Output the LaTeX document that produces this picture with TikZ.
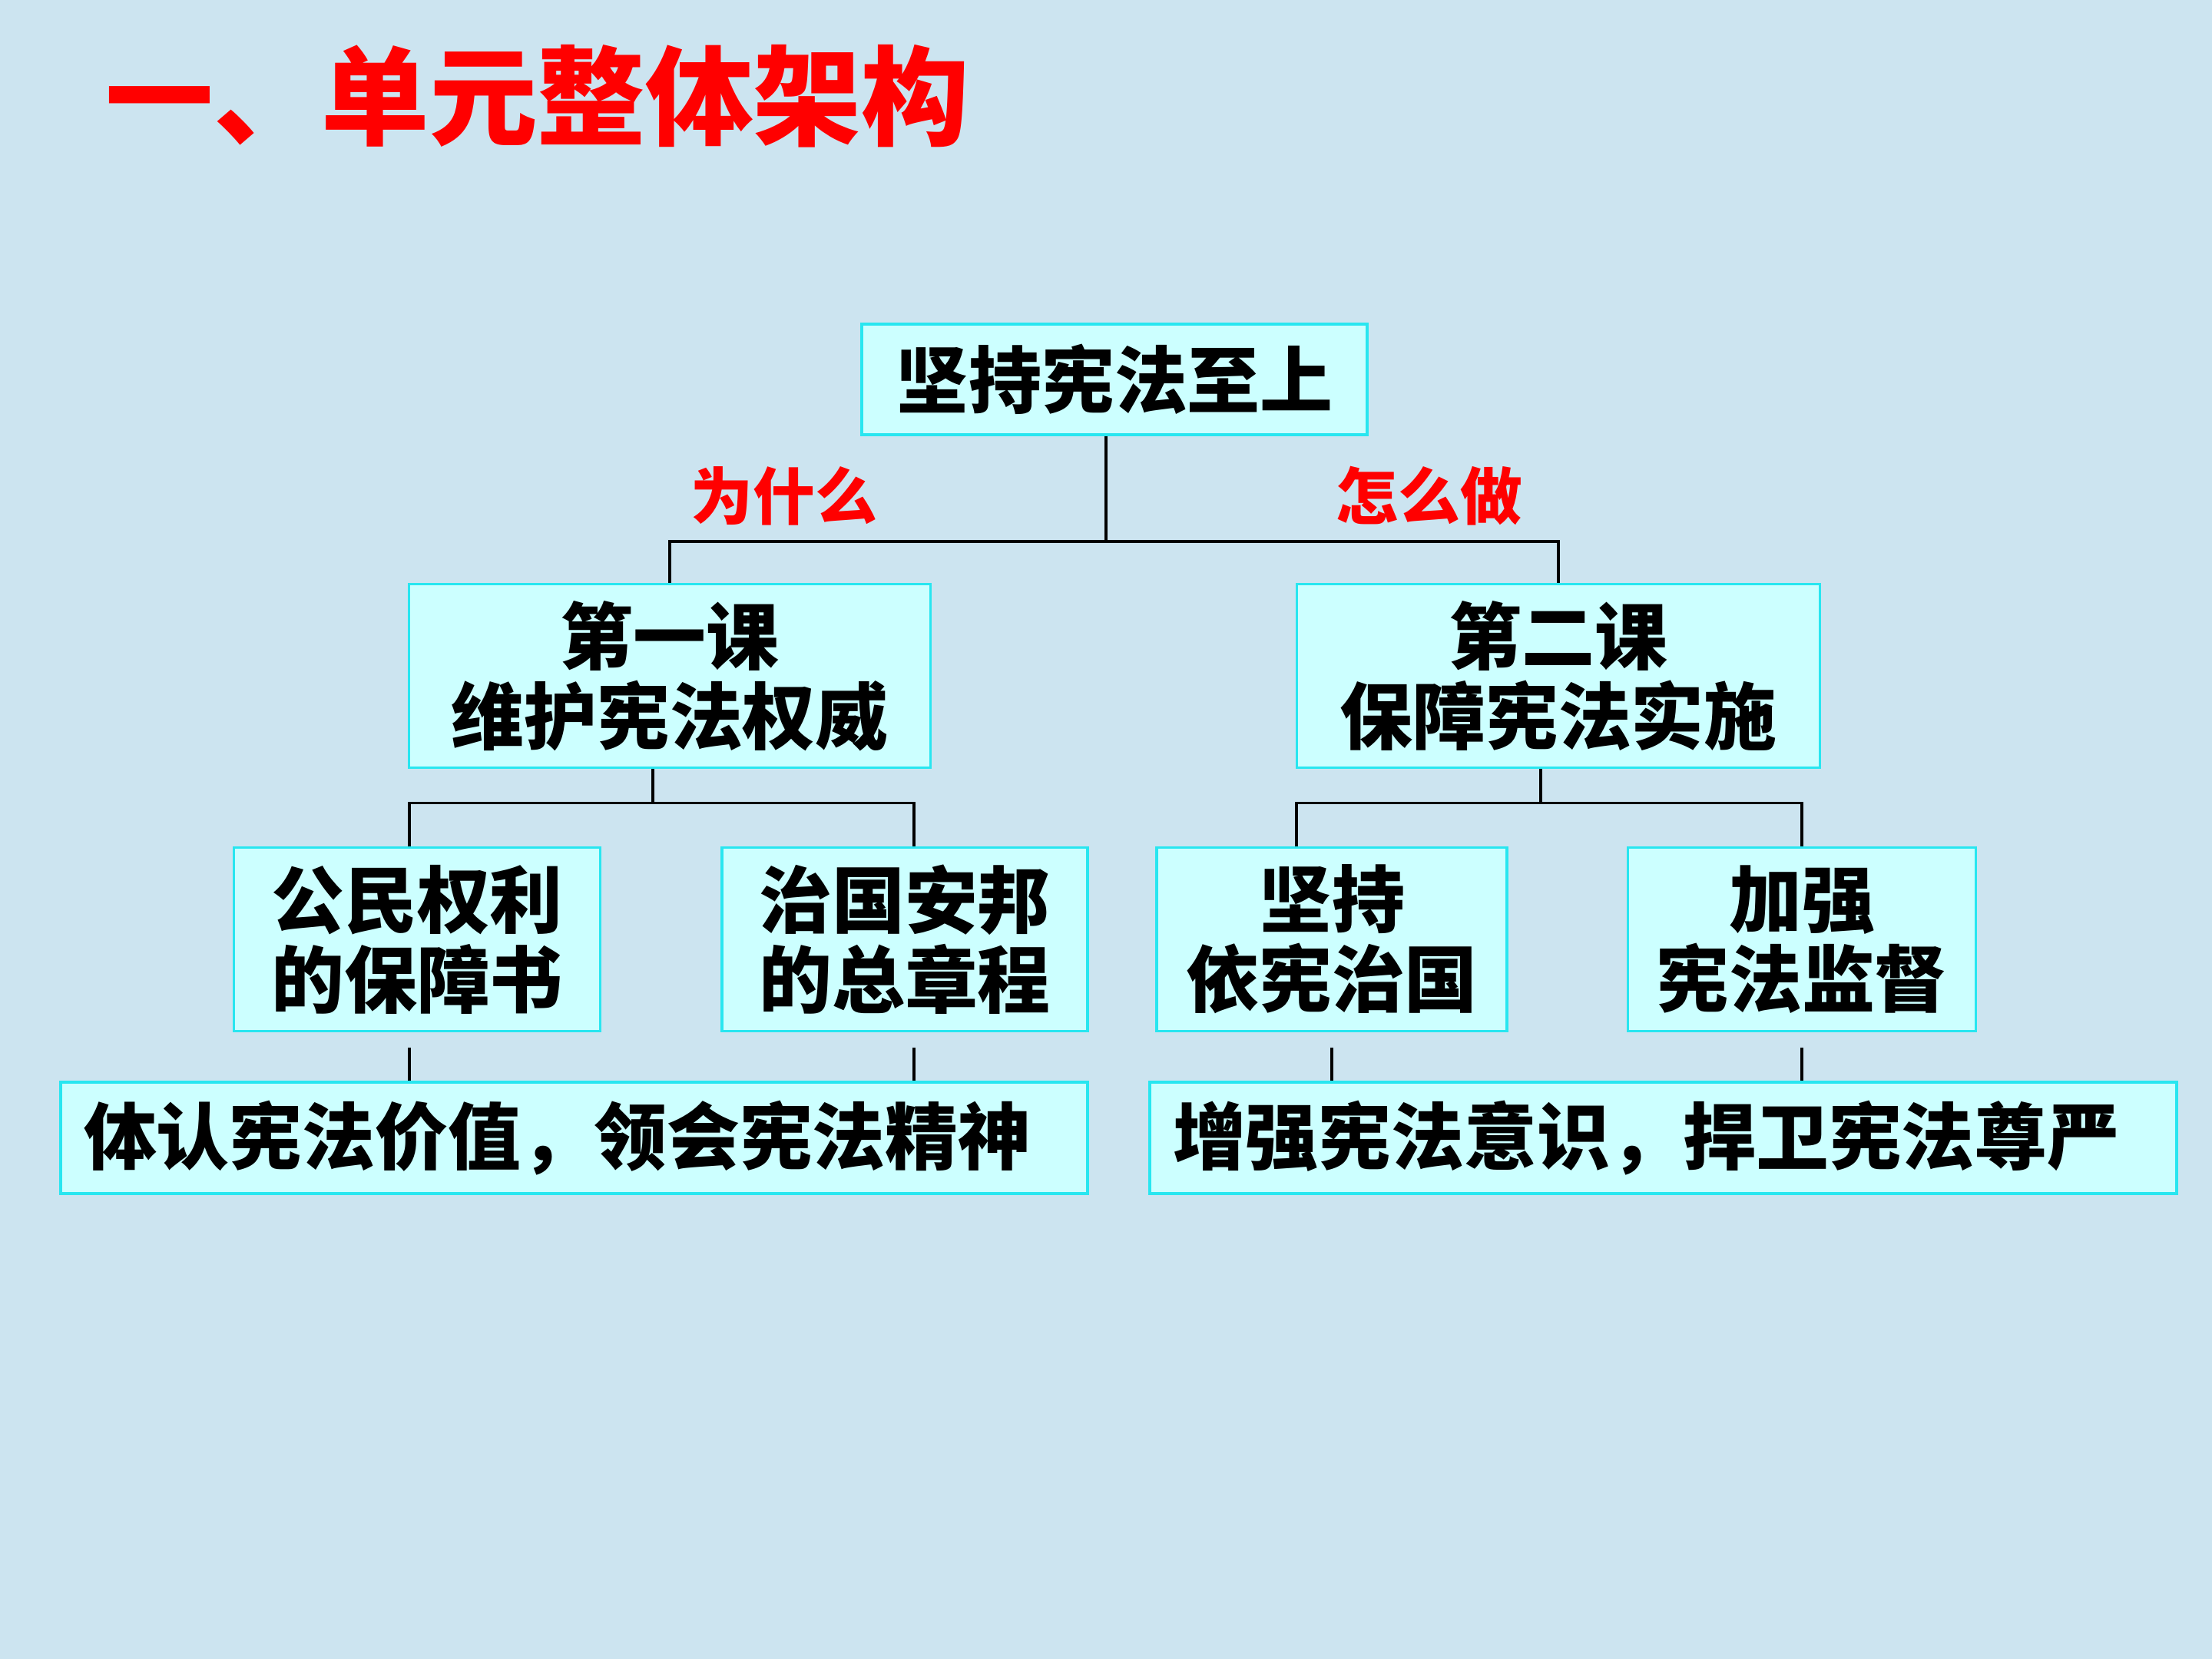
\documentclass[tikz,border=0pt]{standalone}
\usepackage{fontspec}
\newfontfamily\cjk{Noto Sans CJK SC}
\usetikzlibrary{positioning,calc}
\definecolor{bgblue}{RGB}{204,228,240}
\definecolor{boxfill}{RGB}{204,255,255}
\definecolor{boxline}{RGB}{40,230,240}
\definecolor{askred}{RGB}{255,0,0}

\begin{document}
\begin{tikzpicture}[
  box/.style={draw=boxline,fill=boxfill,line width=1pt,inner sep=0pt,align=center,
    minimum height=2.39cm,font=\cjk\bfseries\fontsize{27}{29.6}\selectfont},
  wide/.style={box,minimum height=1.45cm,inner xsep=0.3cm,text width=12.77cm,align=left},
  ask/.style={text=askred,font=\cjk\bfseries\fontsize{23}{26}\selectfont},
  link/.style={line width=1pt}]
  % 背景
  \fill[bgblue] (0,0) rectangle (28.8,-21.6);
  \useasboundingbox (0,0) rectangle (28.8,-21.6);

  % 标题
  \node[anchor=west,text=askred,font=\cjk\bfseries\fontsize{40}{44}\selectfont] (title) at (1.25,-1.25) {一、单元整体架构};

  % 第一层
  \node[box,minimum width=6.58cm,minimum height=1.44cm] (top) at (14.51,-4.94) {坚持宪法至上};
  \node[ask] (why) at (10.21,-6.46) {为什么};
  \node[ask] (how) at (18.61,-6.46) {怎么做};

  % 第二层
  \node[box,minimum width=6.79cm] (l1) at (8.72,-8.80) {第一课\\维护宪法权威};
  \node[box,minimum width=6.81cm] (l2) at (20.29,-8.80) {第二课\\保障宪法实施};

  % 第三层
  \node[box,minimum width=4.77cm] (b1) at (5.43,-12.23) {公民权利\\的保障书};
  \node[box,minimum width=4.76cm] (b2) at (11.78,-12.23) {治国安邦\\的总章程};
  \node[box,minimum width=4.56cm] (b3) at (17.34,-12.23) {坚持\\依宪治国};
  \node[box,minimum width=4.53cm] (b4) at (23.46,-12.23) {加强\\宪法监督};

  % 第四层
  \node[wide] (w1) at (7.475,-14.815) {体认宪法价值，领会宪法精神};
  \node[wide] (w2) at (21.655,-14.815) {增强宪法意识，捍卫宪法尊严};

  % 连线
  \draw[link] ([xshift=-1.1mm]top.south) -- ++(0,-1.37) coordinate (j0);
  \draw[link] (l1.north) |- (j0) -| (l2.north);
  \draw[link] ([xshift=-2.2mm]l1.south) -- ++(0,-0.44) coordinate (j1);
  \draw[link] ([xshift=-1mm]b1.north) |- (j1) -| ([xshift=1.2mm]b2.north);
  \draw[link] ([xshift=-2.3mm]l2.south) -- ++(0,-0.44) coordinate (j2);
  \draw[link] ([xshift=-4.6mm]b3.north) |- (j2) -| (b4.north);
  \draw[link,shorten <=2mm] ([xshift=-1mm]b1.south) -- ([xshift=-1mm]b1.south |- w1.north);
  \draw[link,shorten <=2mm] ([xshift=1.2mm]b2.south) -- ([xshift=1.2mm]b2.south |- w1.north);
  \draw[link,shorten <=2mm] (b3.south) -- (b3.south |- w2.north);
  \draw[link,shorten <=2mm] (b4.south) -- (b4.south |- w2.north);
\end{tikzpicture}
\end{document}
